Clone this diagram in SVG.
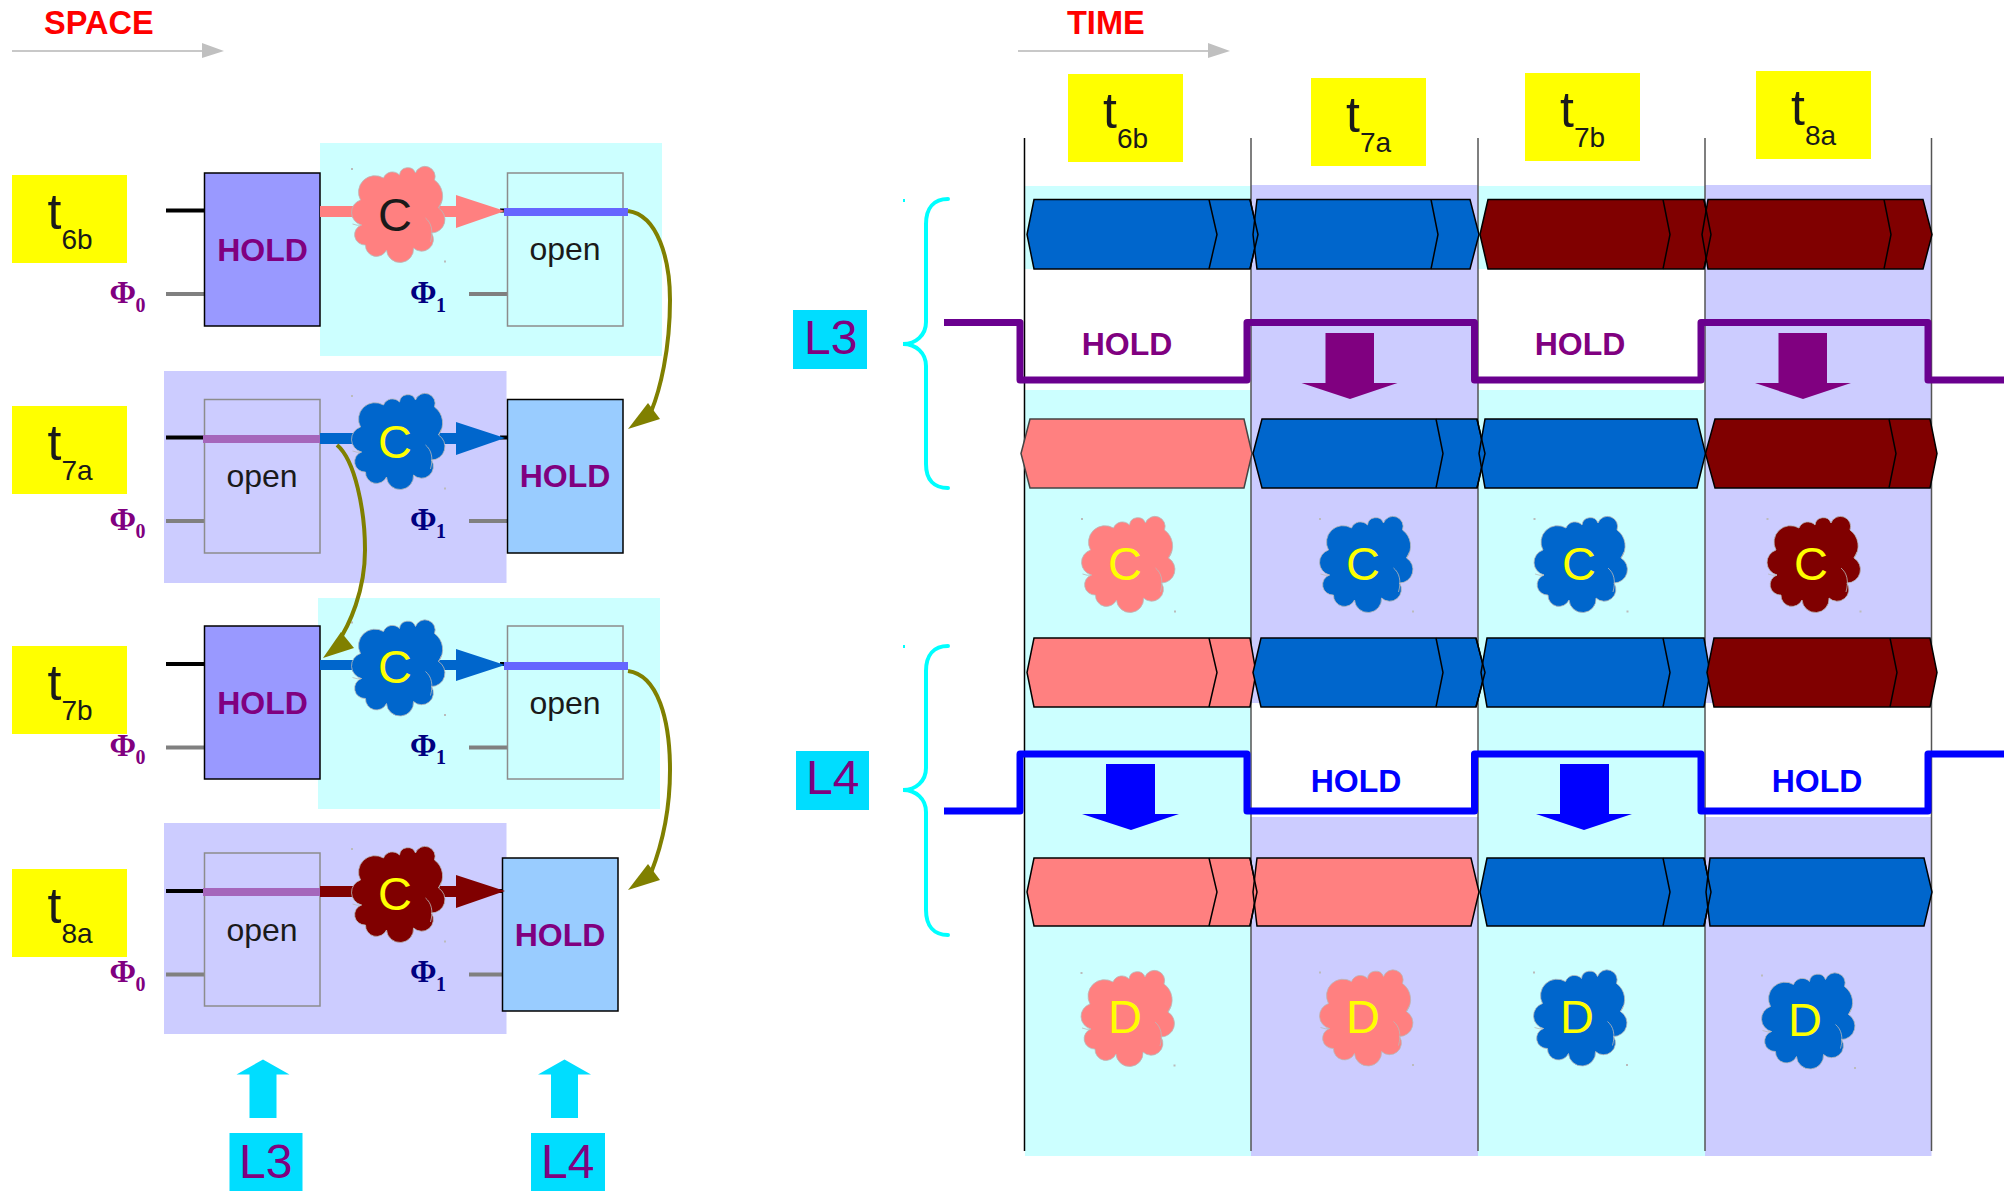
<svg xmlns="http://www.w3.org/2000/svg" width="2016" height="1191" viewBox="0 0 2016 1191">
<style>
text{font-family:"Liberation Sans",Arial,sans-serif}
.yl{fill:#ffff00}
.cy{fill:#ccffff}
.pu{fill:#ccccff}
.lb{fill:#00ddff}
.t{font-size:50px;fill:#1a1a1a}
.sub{font-size:28px}
.lv{font-size:48px;fill:#800080}
.hold{font-size:32px;font-weight:bold;fill:#800080;text-anchor:middle}
.holdb{font-size:32px;font-weight:bold;fill:#0000ff;text-anchor:middle}
.open{font-size:32px;fill:#1a1a1a;text-anchor:middle}
.head{font-size:32.500px;font-weight:bold;fill:#ff0000}
.phi{font-family:"Liberation Serif",serif;font-weight:bold;font-size:32px}
.phis{font-family:"Liberation Serif",serif;font-weight:bold;font-size:20px}
.p0{fill:#800080}
.p1{fill:#000080}
.bk{stroke:#000;stroke-width:4;fill:none}
.gr{stroke:#808080;stroke-width:4;fill:none}
.ol{stroke:#808000;stroke-width:4;fill:none}
.olf{fill:#808000}
.hb{stroke:#000;stroke-width:1.5}
.ob{stroke:#8c8c8c;stroke-width:1.5;fill:none}
.vl{stroke:#555;stroke-width:1.5}
.bar{stroke:#000;stroke-width:1.5;stroke-linejoin:miter}
.ln{stroke:#000;stroke-width:1.5;fill:none}
.fb{fill:#0066cc}
.fr{fill:#800000}
.fp{fill:#ff8080}
.cl{font-size:47px;text-anchor:middle}
.brace{stroke:#00ffff;stroke-width:4;fill:none;stroke-linecap:round}
.pl{stroke-width:7;fill:none;stroke-linejoin:round}
.gline{stroke:#c8c8c8;stroke-width:2}
.ghead{fill:#c0c0c0}
</style>
<defs>
<g id="cloud">
<path stroke="#b9b9b9" stroke-width="0.8" d="M-38,-15A16.5,16.5 0 0 1 -15,-37A9.6,9.6 0 0 1 1,-40A8.3,8.3 0 0 1 17,-42A10,10 0 0 1 36,-35A19.700,19.700 0 0 1 40,-7A13.500,13.500 0 0 1 33,18A11.800,11.800 0 0 1 15,33A13.500,13.500 0 0 1 -12,35A11,11 0 0 1 -33,30A10.300,10.300 0 0 1 -37,10A13,13 0 0 1 -38,-15Z"/>
<path stroke="#b9b9b9" stroke-width="0.8" fill="none" d="M27,3C33,8 35,16 32,27M-46,9Q-41,11 -37,10M40,-7L43,-13"/>
<rect x="-47.500" y="-47" width="2" height="2" fill="#bbbbbb"/>
<rect x="45.500" y="45.500" width="2" height="2" fill="#bbbbbb"/>
</g>
</defs>
<rect width="2016" height="1191" fill="#ffffff"/>

<g id="space-heading">
<text class="head" x="44" y="33.500">SPACE</text>
<line class="gline" x1="12" y1="51" x2="203" y2="51"/>
<polygon class="ghead" points="202,43 224,51 202,58"/>
</g>
<g id="time-heading">
<text class="head" x="1067" y="33.500">TIME</text>
<line class="gline" x1="1018" y1="51" x2="1209" y2="51"/>
<polygon class="ghead" points="1208,43 1230,51 1208,58"/>
</g>

<g id="space-backgrounds">
<rect class="cy" x="320" y="143" width="342" height="213"/>
<rect class="pu" x="164" y="371" width="342.500" height="212"/>
<rect class="cy" x="318" y="598" width="342" height="211"/>
<rect class="pu" x="164" y="823" width="342.500" height="211"/>
</g>

<g id="time-backgrounds">
<rect class="cy" x="1025" y="186" width="226" height="83"/>
<rect class="cy" x="1025" y="390" width="226" height="766"/>
<rect class="pu" x="1251" y="185" width="227" height="518"/>
<rect class="pu" x="1251" y="817" width="227" height="339"/>
<rect class="cy" x="1478" y="186" width="227" height="83"/>
<rect class="cy" x="1478" y="390" width="227" height="766"/>
<rect class="pu" x="1705" y="185" width="226.500" height="518"/>
<rect class="pu" x="1705" y="817" width="226.500" height="339"/>
</g>

<g id="connectors">
<line class="bk" x1="166" y1="210.500" x2="205" y2="210.500"/>
<line class="gr" x1="166" y1="294" x2="205" y2="294"/>
<line class="gr" x1="469" y1="294" x2="508" y2="294"/>
<line class="bk" x1="500" y1="210.500" x2="508" y2="210.500"/>
<line class="bk" x1="166" y1="437.500" x2="205" y2="437.500"/>
<line class="gr" x1="166" y1="521" x2="205" y2="521"/>
<line class="gr" x1="469" y1="521" x2="508" y2="521"/>
<line class="bk" x1="500" y1="437.500" x2="508" y2="437.500"/>
<line class="bk" x1="166" y1="664" x2="205" y2="664"/>
<line class="gr" x1="166" y1="747.500" x2="205" y2="747.500"/>
<line class="gr" x1="469" y1="747.500" x2="508" y2="747.500"/>
<line class="bk" x1="500" y1="664" x2="508" y2="664"/>
<line class="bk" x1="166" y1="891" x2="205" y2="891"/>
<line class="gr" x1="166" y1="974.500" x2="205" y2="974.500"/>
<line class="gr" x1="469" y1="974.500" x2="503" y2="974.500"/>
<line class="bk" x1="495" y1="891" x2="508" y2="891"/>
</g>

<g id="latch-r1-hold"><rect class="hb" x="204.500" y="173" width="115.500" height="153" fill="#9999ff"/><text class="hold" x="262.500" y="261">HOLD</text></g>
<g id="latch-r1-open"><rect class="ob" x="507.500" y="173" width="115.500" height="153"/><text class="open" x="565" y="260">open</text></g>
<g id="latch-r2-open"><rect class="ob" x="204.500" y="399.500" width="115.500" height="153.500"/><text class="open" x="262" y="487">open</text></g>
<g id="latch-r2-hold"><rect class="hb" x="507.500" y="399.500" width="115.500" height="153.500" fill="#99ccff"/><text class="hold" x="565" y="487">HOLD</text></g>
<g id="latch-r3-hold"><rect class="hb" x="204.500" y="626" width="115.500" height="153" fill="#9999ff"/><text class="hold" x="262.500" y="714">HOLD</text></g>
<g id="latch-r3-open"><rect class="ob" x="507.500" y="626" width="115.500" height="153"/><text class="open" x="565" y="714">open</text></g>
<g id="latch-r4-open"><rect class="ob" x="204.500" y="853" width="115.500" height="153"/><text class="open" x="262" y="941">open</text></g>
<g id="latch-r4-hold"><rect class="hb" x="502.500" y="858" width="115.500" height="153" fill="#99ccff"/><text class="hold" x="560" y="946">HOLD</text></g>

<g id="data-arrows">
<rect class="fp" x="320" y="206" width="140" height="11"/><polygon class="fp" points="456,195 505,211 456,228"/>
<rect fill="#6666ff" x="504" y="208" width="124" height="8"/>
<rect class="fb" x="320" y="433" width="140" height="11"/><polygon class="fb" points="456,422 505,438 456,455"/>
<rect fill="#a566bb" x="203" y="435" width="117" height="8"/>
<rect class="fb" x="320" y="660" width="140" height="10"/><polygon class="fb" points="456,649 505,665 456,681"/>
<rect fill="#6666ff" x="504" y="662" width="124" height="8"/>
<rect class="fr" x="320" y="886" width="140" height="11"/><polygon class="fr" points="456,875 505,891 456,908"/>
<rect fill="#a566bb" x="203" y="888" width="117" height="8"/>
</g>

<g id="cloud-s1"><use href="#cloud" x="398.500" y="215" class="fp"/><text class="cl" x="395" y="231" fill="#1a1a1a">C</text></g>
<g id="cloud-s2"><use href="#cloud" x="398.500" y="442" class="fb"/><text class="cl" x="395" y="458" fill="#ffff00">C</text></g>
<g id="cloud-s3"><use href="#cloud" x="398.500" y="668.500" class="fb"/><text class="cl" x="395" y="683" fill="#ffff00">C</text></g>
<g id="cloud-s4"><use href="#cloud" x="398.500" y="895" class="fr"/><text class="cl" x="395" y="910" fill="#ffff00">C</text></g>

<g id="transfer-curves">
<path class="ol" d="M628,211C658,215 670,260 670,300C670,350 660,390 651,412"/>
<polygon class="olf" points="628,429 648,403 660,419"/>
<path class="ol" d="M337,445C355,460 365,510 365,550C365,590 350,625 336,645"/>
<polygon class="olf" points="323,658 341,632 354,648"/>
<path class="ol" d="M628,671C658,675 670,720 670,770C670,815 660,850 651,873"/>
<polygon class="olf" points="628,890 648,864 660,880"/>
</g>

<g id="label-r1"><rect class="yl" x="12" y="175" width="115" height="88"/><text class="t" x="47.500" y="229">t<tspan class="sub" dy="20">6b</tspan></text></g>
<g id="label-r2"><rect class="yl" x="12" y="406" width="115" height="88"/><text class="t" x="47.500" y="460">t<tspan class="sub" dy="20">7a</tspan></text></g>
<g id="label-r3"><rect class="yl" x="12" y="646" width="115" height="88"/><text class="t" x="47.500" y="700">t<tspan class="sub" dy="20">7b</tspan></text></g>
<g id="label-r4"><rect class="yl" x="12" y="869" width="115" height="88"/><text class="t" x="47.500" y="923">t<tspan class="sub" dy="20">8a</tspan></text></g>

<g id="phi-labels">
<text class="phi p0" x="109.500" y="303">Φ</text><text class="phis p0" x="135.500" y="312">0</text>
<text class="phi p1" x="410" y="303">Φ</text><text class="phis p1" x="436" y="312">1</text>
<text class="phi p0" x="109.500" y="530">Φ</text><text class="phis p0" x="135.500" y="538">0</text>
<text class="phi p1" x="410" y="530">Φ</text><text class="phis p1" x="436" y="538">1</text>
<text class="phi p0" x="109.500" y="756">Φ</text><text class="phis p0" x="135.500" y="764">0</text>
<text class="phi p1" x="410" y="756">Φ</text><text class="phis p1" x="436" y="764">1</text>
<text class="phi p0" x="109.500" y="982">Φ</text><text class="phis p0" x="135.500" y="991">0</text>
<text class="phi p1" x="410" y="982">Φ</text><text class="phis p1" x="436" y="991">1</text>
</g>

<g id="l3-pointer"><polygon fill="#00ddff" points="263,1059.500 289.500,1074.500 276.500,1074.500 276.500,1118 249.500,1118 249.500,1074.500 236.500,1074.500"/><rect class="lb" x="229.500" y="1133" width="73" height="58"/><text class="lv" x="239" y="1178">L3</text></g>
<g id="l4-pointer"><polygon fill="#00ddff" points="564.500,1059.500 591,1074.500 578,1074.500 578,1118 551,1118 551,1074.500 538,1074.500"/><rect class="lb" x="531" y="1133" width="74" height="58"/><text class="lv" x="541" y="1178">L4</text></g>

<g id="time-gridlines">
<line class="vl" x1="1024.500" y1="138" x2="1024.500" y2="1151" style="stroke:#000"/>
<line class="vl" x1="1251" y1="138" x2="1251" y2="1151"/>
<line class="vl" x1="1478" y1="138" x2="1478" y2="1151"/>
<line class="vl" x1="1705" y1="138" x2="1705" y2="1151"/>
<line class="vl" x1="1931.500" y1="138" x2="1931.500" y2="1151"/>
</g>

<g id="bars-l3-input">
<polygon class="bar fb" points="1027,234.500 1034,199.500 1250,199.500 1258,234.500 1250,269 1034,269"/>
<polyline class="ln" points="1209,199.500 1217,234.500 1209,269"/>
<polygon class="bar fb" points="1253,234.500 1257,199.500 1470,199.500 1479,234.500 1470,269 1257,269"/>
<polyline class="ln" points="1431,199.500 1438,234.500 1431,269"/>
<polyline class="ln" points="1250,199.500 1258,234.500 1250,269"/>
<polygon class="bar fr" points="1480,234.500 1488,199.500 1704,199.500 1711,234.500 1704,269 1488,269"/>
<polyline class="ln" points="1663,199.500 1670,234.500 1663,269"/>
<polygon class="bar fr" points="1702,234.500 1708,199.500 1923,199.500 1932,234.500 1923,269 1708,269"/>
<polyline class="ln" points="1884,199.500 1891,234.500 1884,269"/>
<polyline class="ln" points="1704,199.500 1711,234.500 1704,269"/>
</g>
<g id="bars-l3-output">
<polygon class="bar fp" style="stroke:#444" points="1021,453.500 1030,419 1244,419 1252,453.500 1244,488 1030,488"/>
<polygon class="bar fb" points="1253,453.500 1262,419 1477,419 1485,453.500 1477,488 1262,488"/>
<polyline class="ln" points="1436,419 1443,453.500 1436,488"/>
<polygon class="bar fb" points="1479,453.500 1485,419 1697,419 1705.500,453.500 1697,488 1485,488"/>
<polyline class="ln" points="1477,419 1485,453.500 1477,488"/>
<polygon class="bar fr" points="1705.500,453.500 1715,419 1930,419 1937,453.500 1930,488 1715,488"/>
<polyline class="ln" points="1889,419 1896,453.500 1889,488"/>
</g>
<g id="bars-l4-input">
<polygon class="bar fp" points="1027,672.500 1034,638 1250,638 1256,672.500 1250,707 1034,707"/>
<polyline class="ln" points="1209,638 1217,672.500 1209,707"/>
<polygon class="bar fb" points="1253,672.500 1261,638 1476,638 1485,672.500 1476,707 1261,707"/>
<polyline class="ln" points="1436,638 1443,672.500 1436,707"/>
<polygon class="bar fb" points="1481,672.500 1487,638 1704,638 1710,672.500 1704,707 1487,707"/>
<polyline class="ln" points="1663,638 1670,672.500 1663,707"/>
<polyline class="ln" points="1476,638 1485,672.500 1476,707"/>
<polygon class="bar fr" points="1707,672.500 1714,638 1930,638 1937,672.500 1930,707 1714,707"/>
<polyline class="ln" points="1890,638 1897,672.500 1890,707"/>
</g>
<g id="bars-l4-output">
<polygon class="bar fp" points="1027,892 1034,858 1250,858 1257,892 1250,926 1034,926"/>
<polyline class="ln" points="1209,858 1217,892 1209,926"/>
<polygon class="bar fp" points="1253,892 1257,858 1471,858 1479,892 1471,926 1257,926"/>
<polyline class="ln" points="1250,858 1257,892 1250,926"/>
<polygon class="bar fb" points="1480,892 1487,858 1704,858 1711,892 1704,926 1487,926"/>
<polyline class="ln" points="1663,858 1670,892 1663,926"/>
<polygon class="bar fb" points="1706,892 1710,858 1924,858 1932,892 1924,926 1710,926"/>
<polyline class="ln" points="1704,858 1711,892 1704,926"/>
</g>

<g id="pulse-l3">
<polyline class="pl" stroke="#6a008f" points="944,322.500 1020,322.500 1020,380 1247,380 1247,322.500 1474.500,322.500 1474.500,380 1701,380 1701,322.500 1928,322.500 1928,380 2004,380"/>
<text class="hold" x="1127" y="355">HOLD</text>
<text class="hold" x="1580" y="355">HOLD</text>
<polygon fill="#800080" points="1325.500,333 1374,333 1374,383 1397.500,383 1350,399 1301.500,383 1325.500,383"/>
<polygon fill="#800080" points="1778.500,333 1827,333 1827,383 1851,383 1803,399 1755,383 1778.500,383"/>
</g>
<g id="pulse-l4">
<polyline class="pl" stroke="#0000ff" points="944,811 1020,811 1020,754 1247,754 1247,811 1474.500,811 1474.500,754 1701,754 1701,811 1928,811 1928,754 2004,754"/>
<text class="holdb" x="1356" y="792">HOLD</text>
<text class="holdb" x="1817" y="792">HOLD</text>
<polygon fill="#0000ff" points="1106,764 1155,764 1155,814 1179,814 1131,830 1082,814 1106,814"/>
<polygon fill="#0000ff" points="1560,764 1609,764 1609,814 1632,814 1584,830 1536,814 1560,814"/>
</g>

<g id="time-label-6b"><rect class="yl" x="1068" y="74" width="115" height="88"/><text class="t" x="1103" y="128">t<tspan class="sub" dy="20">6b</tspan></text></g>
<g id="time-label-7a"><rect class="yl" x="1311" y="78" width="115" height="88"/><text class="t" x="1346" y="132">t<tspan class="sub" dy="20">7a</tspan></text></g>
<g id="time-label-7b"><rect class="yl" x="1525" y="73" width="115" height="88"/><text class="t" x="1560" y="127">t<tspan class="sub" dy="20">7b</tspan></text></g>
<g id="time-label-8a"><rect class="yl" x="1756" y="71" width="115" height="88"/><text class="t" x="1791" y="125">t<tspan class="sub" dy="20">8a</tspan></text></g>

<g id="cloud-c-6b"><use href="#cloud" x="1128.500" y="565" class="fp"/><text class="cl" x="1125" y="580" fill="#ffff00">C</text></g>
<g id="cloud-c-7a"><use href="#cloud" x="1366.500" y="565" class="fb"/><text class="cl" x="1363" y="580" fill="#ffff00">C</text></g>
<g id="cloud-c-7b"><use href="#cloud" x="1581" y="565" class="fb"/><text class="cl" x="1579" y="580" fill="#ffff00">C</text></g>
<g id="cloud-c-8a"><use href="#cloud" x="1814" y="565" class="fr"/><text class="cl" x="1811" y="580" fill="#ffff00">C</text></g>
<g id="cloud-d-6b"><use href="#cloud" x="1128" y="1019" class="fp"/><text class="cl" x="1125" y="1033" fill="#ffff00">D</text></g>
<g id="cloud-d-7a"><use href="#cloud" x="1366.500" y="1018.500" class="fp"/><text class="cl" x="1363" y="1033" fill="#ffff00">D</text></g>
<g id="cloud-d-7b"><use href="#cloud" x="1580.500" y="1018.500" class="fb"/><text class="cl" x="1577" y="1033" fill="#ffff00">D</text></g>
<g id="cloud-d-8a"><use href="#cloud" x="1808.500" y="1021.500" class="fb"/><text class="cl" x="1805" y="1036" fill="#ffff00">D</text></g>

<g id="brace-l3">
<rect class="lb" x="793" y="310" width="74" height="59"/><text class="lv" x="804" y="354">L3</text>
<path class="brace" d="M948,199C934,199 926,208 926,224V322C926,335 916,344 903,344C916,344 926,353 926,366V464C926,480 934,488 948,488"/>
<rect x="903" y="199" width="2" height="3" fill="#00ffff"/>
</g>
<g id="brace-l4">
<rect class="lb" x="796" y="751" width="73" height="59"/><text class="lv" x="806" y="794">L4</text>
<path class="brace" d="M948,646C934,646 926,655 926,671V768C926,781 916,790 903,790C916,790 926,799 926,812V910C926,926 934,935 948,935"/>
<rect x="903" y="645" width="2" height="3" fill="#00ffff"/>
</g>
</svg>
